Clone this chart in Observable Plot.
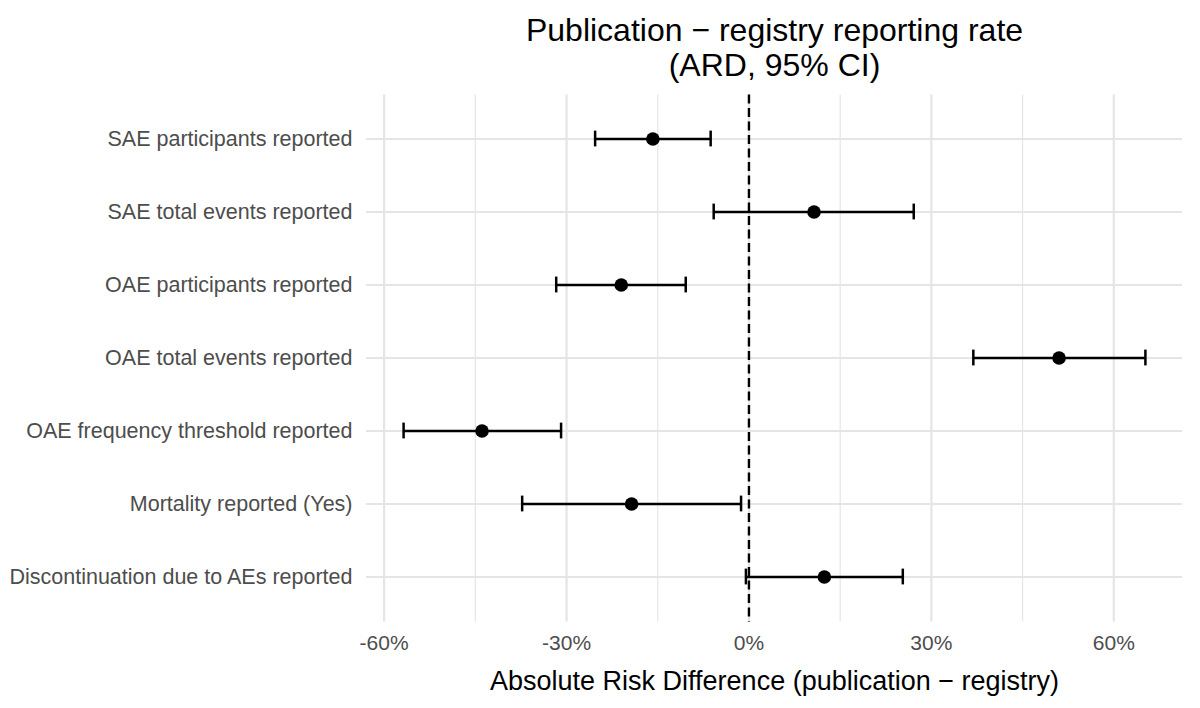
<!DOCTYPE html>
<html>
<head>
<meta charset="utf-8">
<script src="https://cdn.jsdelivr.net/npm/d3@7"></script>
<script src="https://cdn.jsdelivr.net/npm/@observablehq/plot@0.6"></script>
<style>
  html, body { margin: 0; padding: 0; background: #ffffff; }
  #chart svg { display: block; }
</style>
</head>
<body>
<div id="chart"></div>
<script>
// Outcome categories (top to bottom)
const outcomes = [
  "SAE participants reported",
  "SAE total events reported",
  "OAE participants reported",
  "OAE total events reported",
  "OAE frequency threshold reported",
  "Mortality reported (Yes)",
  "Discontinuation due to AEs reported"
];
// Absolute risk difference (publication − registry), proportions
const ard   = [-0.158,  0.107, -0.210,  0.510, -0.439, -0.193,  0.124];
const lower = [-0.253, -0.058, -0.317,  0.369, -0.568, -0.373, -0.005];
const upper = [-0.063,  0.271, -0.104,  0.652, -0.309, -0.013,  0.253];

const majorTicks = [-0.6, -0.3, 0, 0.3, 0.6];
const minorTicks = [-0.45, -0.15, 0.15, 0.45];

const titleText = "Publication \u2212 registry reporting rate\n(ARD, 95% CI)";
const xTitle = "Absolute Risk Difference (publication \u2212 registry)";

const data = outcomes.map((o, i) => ({outcome: o, est: ard[i], lo: lower[i], hi: upper[i]}));

const FONT = "'Liberation Sans', Arial, Helvetica, sans-serif";
const gridColor = "#e5e5e5";

const chart = Plot.plot({
  width: 1200,
  height: 708,
  marginLeft: 366,
  marginRight: 18,
  marginTop: 94.4,
  marginBottom: 86.6,
  style: {fontFamily: FONT, background: "#ffffff"},
  x: {domain: [-0.629, 0.713], ticks: majorTicks, tickFormat: d => Math.round(d * 100) + "%"},
  y: {type: "band", domain: outcomes, paddingInner: 0, paddingOuter: 0.1},
  marks: [
    // minor and major vertical gridlines
    Plot.ruleX(minorTicks, {stroke: gridColor, strokeWidth: 1.2}),
    Plot.ruleX(majorTicks, {stroke: gridColor, strokeWidth: 2.2}),
    // horizontal gridlines at categories
    Plot.ruleY(outcomes, {y: d => d, stroke: gridColor, strokeWidth: 2.2}),
    // zero reference
    Plot.ruleX([0], {stroke: "#000", strokeWidth: 2.4, strokeDasharray: "9,4.5"}),
    // error bars
    Plot.ruleY(data, {y: "outcome", x1: "lo", x2: "hi", stroke: "#000", strokeWidth: 2.5}),
    Plot.tickX(data, {y: "outcome", x: "lo", stroke: "#000", strokeWidth: 2.5, insetTop: 28.6, insetBottom: 28.6}),
    Plot.tickX(data, {y: "outcome", x: "hi", stroke: "#000", strokeWidth: 2.5, insetTop: 28.6, insetBottom: 28.6}),
    // point estimates
    Plot.dot(data, {y: "outcome", x: "est", r: 6.8, fill: "#000", stroke: "none"}),
    // axes
    Plot.axisX({ticks: majorTicks, tickSize: 0, tickPadding: 13, fontSize: 21, fill: "#4d4d4d", label: null,
                tickFormat: d => Math.round(d * 100) + "%"}),
    Plot.axisY({tickSize: 0, tickPadding: 14, fontSize: 21.5, fill: "#4d4d4d", label: null}),
    // axis title
    Plot.text([xTitle], {frameAnchor: "bottom", dy: 59, lineAnchor: "middle", fontSize: 27, fill: "#000"}),
    // chart title
    Plot.text([titleText], {frameAnchor: "top", dy: -79, lineAnchor: "top", lineHeight: 1.1, fontSize: 32, fill: "#000", textAnchor: "middle"})
  ]
});

document.getElementById("chart").appendChild(chart);
</script>
</body>
</html>
